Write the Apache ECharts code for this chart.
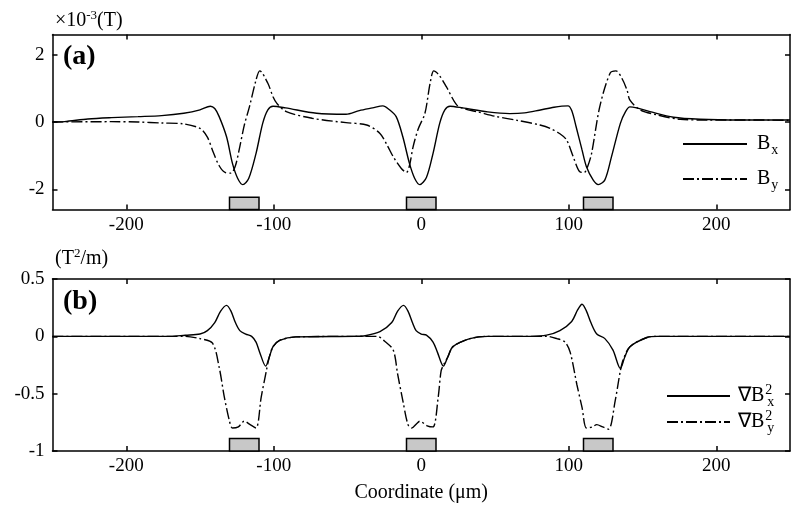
<!DOCTYPE html>
<html>
<head>
<meta charset="utf-8">
<script src="https://cdn.jsdelivr.net/npm/echarts@6/dist/echarts.min.js"></script>
<style>
  html, body { margin: 0; padding: 0; background: #fff; }
  #chart { width: 797px; height: 514px; }
</style>
</head>
<body>
<div id="chart"></div>
<script>
// x ticks (um) and the magnet strips drawn under both panels
const xTicks = [-200, -100, 0, 100, 200];
const bTicks = [-2, 0, 2];
const magnets = [[-130, -110], [-10, 10], [110, 130]];

// (a) field components, x10^-3 T
const bx = [[-250,0],[-242,0.01],[-226,0.09],[-210,0.13],[-192,0.16],[-176,0.19],[-161,0.26],[-150,0.36],[-143,0.47],[-140,0.4],[-137,0.16],[-132,-0.44],[-128,-1.23],[-124.5,-1.67],[-121,-1.86],[-117,-1.68],[-112,-0.93],[-107.5,-0.04],[-104,0.36],[-100.5,0.47],[-92,0.42],[-71,0.26],[-51,0.23],[-42,0.34],[-33,0.42],[-26,0.48],[-22,0.38],[-17,0.16],[-12.5,-0.44],[-8,-1.23],[-4.5,-1.67],[-1,-1.86],[3.5,-1.65],[8,-0.93],[12.5,-0.04],[16,0.36],[19.5,0.47],[28,0.42],[45,0.3],[60,0.25],[70,0.27],[80,0.35],[90,0.44],[99.5,0.48],[102,0.34],[105,-0.14],[109,-0.83],[112,-1.33],[116.5,-1.72],[120,-1.86],[124.5,-1.72],[129,-1.03],[135,-0.04],[138.5,0.31],[141.5,0.45],[146,0.42],[155,0.31],[171,0.14],[189,0.08],[216,0.06],[250,0.06]];
const by = [[-250,0],[-210,0.01],[-192,0],[-176,-0.03],[-162,-0.05],[-150,-0.19],[-145,-0.45],[-141,-0.9],[-137,-1.3],[-133,-1.5],[-129,-1.52],[-126,-1.3],[-123,-0.73],[-120,-0.1],[-116.5,0.45],[-112,1.25],[-109.5,1.52],[-104,1.15],[-100.5,0.75],[-98,0.56],[-91.5,0.31],[-74,0.11],[-51,-0.02],[-37,-0.09],[-28,-0.34],[-23,-0.7],[-19,-1.03],[-13.5,-1.38],[-10,-1.5],[-8,-1.3],[-5.5,-0.73],[-2,-0.2],[2.5,0.26],[6,1.15],[8.5,1.52],[12,1.4],[17,1.05],[24,0.51],[30,0.38],[37.5,0.31],[50,0.17],[65,0.05],[80.5,-0.09],[87.5,-0.19],[94,-0.35],[98.5,-0.53],[103,-1.03],[107.5,-1.48],[110.5,-1.5],[113,-1.3],[115.5,-0.93],[121,0.45],[128,1.45],[132,1.52],[136,1.3],[139.5,0.95],[141.5,0.65],[148.5,0.36],[160,0.21],[175.5,0.08],[194,0.06],[221,0.06],[250,0.05]];

// (b) gradients of B^2, T^2/m
const gx = [[-250,0],[-170,0],[-160,0.01],[-150,0.02],[-145,0.05],[-140,0.12],[-136,0.22],[-132,0.27],[-129,0.22],[-126,0.12],[-123,0.05],[-119,0.02],[-115,0],[-112,-0.05],[-109.5,-0.14],[-105.5,-0.26],[-103,-0.18],[-100.5,-0.09],[-96,-0.035],[-85,-0.005],[-45,0],[-38,0.005],[-28,0.04],[-20,0.12],[-16,0.22],[-12,0.27],[-9,0.22],[-6,0.12],[-3.5,0.05],[0,0.02],[3.5,0.01],[8,-0.05],[11,-0.14],[15,-0.26],[18,-0.18],[21.5,-0.09],[33,-0.02],[45,0],[75,0],[85,0.01],[94,0.05],[102,0.13],[106,0.23],[109,0.28],[112,0.22],[115,0.12],[119,0.02],[124.5,-0.02],[130,-0.12],[135,-0.28],[138,-0.18],[141.5,-0.09],[153,-0.01],[160,0],[250,0]];
const gy = [[-250,0],[-160,0],[-150,-0.02],[-141.5,-0.06],[-137,-0.27],[-133.5,-0.53],[-130,-0.74],[-128,-0.8],[-124,-0.79],[-120,-0.74],[-116,-0.77],[-112,-0.8],[-108.5,-0.53],[-105,-0.3],[-103,-0.18],[-100.5,-0.09],[-96,-0.035],[-85,-0.005],[-45,0],[-30,0],[-25,-0.04],[-19,-0.12],[-16,-0.33],[-12.5,-0.56],[-9,-0.77],[-6.5,-0.8],[-3,-0.76],[-1,-0.74],[4,-0.78],[8,-0.79],[11.5,-0.53],[13.5,-0.3],[15.5,-0.24],[18,-0.18],[21.5,-0.09],[33,-0.02],[45,0],[85,0],[92,-0.02],[97.5,-0.05],[101,-0.14],[105.5,-0.42],[109,-0.62],[112,-0.8],[116,-0.79],[119,-0.77],[123,-0.79],[127,-0.81],[131.5,-0.56],[135,-0.3],[137,-0.2],[141.5,-0.09],[153,-0.01],[160,0],[250,0]];

const FONT = 'Liberation Serif';
const dashDot = [11, 3, 2, 3];

const chart = echarts.init(document.getElementById('chart'), null, { renderer: 'canvas' });

function xAx(grid, pos, labels) {
  return {
    type: 'value', gridIndex: grid, position: pos, min: -250, max: 250,
    axisLine: { show: true, onZero: false, lineStyle: { color: '#000', width: 1.5 } },
    axisTick: { inside: true, length: 5, customValues: xTicks, lineStyle: { color: '#000', width: 1.5 } },
    axisLabel: { show: labels, customValues: xTicks, margin: 6, color: '#000', fontFamily: FONT, fontSize: 19 },
    splitLine: { show: false }
  };
}
function yAx(grid, pos, min, max, ticks, labels) {
  return {
    type: 'value', gridIndex: grid, position: pos, min: min, max: max,
    axisLine: { show: true, onZero: false, lineStyle: { color: '#000', width: 1.5 } },
    axisTick: { inside: true, length: 5, customValues: ticks, lineStyle: { color: '#000', width: 1.5 } },
    axisLabel: { show: labels, customValues: ticks, margin: 8, color: '#000', fontFamily: FONT, fontSize: 19 },
    splitLine: { show: false }
  };
}
function magnetArea(y0, y1) {
  return {
    silent: true,
    itemStyle: { color: '#c8c8c8', borderColor: '#000', borderWidth: 1.5 },
    label: { show: false },
    data: magnets.map(m => [{ xAxis: m[0], yAxis: y0 }, { xAxis: m[1], yAxis: y1 }])
  };
}
function lineSeries(name, data, xi, yi, dash) {
  return {
    name: name, type: 'line', xAxisIndex: xi, yAxisIndex: yi, data: data,
    symbol: 'none', smooth: 0.3, z: 3,
    itemStyle: { color: '#000' },
    lineStyle: { color: '#000', width: 1.4, type: dash ? dashDot : 'solid' }
  };
}

const legendNames = { Bx: '{m|B}{sub|x}', By: '{m|B}{sub|y}', gx: '{m|∇B}{sup|2}{sub|x}', gy: '{m|∇B}{sup|2}{sub|y}' };
const rich = {
  m: { fontFamily: FONT, fontSize: 20, color: '#000' },
  sub: { fontFamily: FONT, fontSize: 14, color: '#000', padding: [12, 0, 0, 1] },
  sup: { fontFamily: FONT, fontSize: 14, color: '#000', padding: [0, 0, 12, 1], width: 1 }
};

chart.setOption({
  animation: false,
  backgroundColor: '#fff',
  grid: [
    { left: 52.5, right: 7, top: 34.5, height: 175 },
    { left: 52.5, right: 7, top: 279, height: 172 }
  ],
  xAxis: [
    xAx(0, 'bottom', true), xAx(0, 'top', false),
    Object.assign(xAx(1, 'bottom', true), {
      name: 'Coordinate (μm)', nameLocation: 'middle', nameGap: 32,
      nameTextStyle: { color: '#000', fontFamily: FONT, fontSize: 20 }
    }),
    xAx(1, 'top', false)
  ],
  yAxis: [
    yAx(0, 'left', -2.6, 2.6, bTicks, true), yAx(0, 'right', -2.6, 2.6, bTicks, false),
    Object.assign(yAx(1, 'left', -1, 0.5, null, true), { interval: 0.5 }),
    Object.assign(yAx(1, 'right', -1, 0.5, null, false), { interval: 0.5 })
  ],
  legend: [
    {
      data: ['Bx', 'By'], orient: 'vertical', left: 682, top: 134, padding: 0,
      itemWidth: 64, itemHeight: 12, itemGap: 12,
      itemStyle: { opacity: 0 },
      formatter: n => legendNames[n],
      textStyle: { rich: rich, padding: [0, 0, 0, 5] }
    },
    {
      data: ['gx', 'gy'], orient: 'vertical', left: 666, top: 383, padding: 0,
      itemWidth: 63, itemHeight: 12, itemGap: 0,
      itemStyle: { opacity: 0 },
      formatter: n => legendNames[n],
      textStyle: { rich: rich, padding: [0, 0, 0, 3] }
    }
  ],
  graphic: [
    { type: 'text', left: 55, top: 9, style: { text: '{a|×10}{s|-3}{a|(T)}', rich: {
      a: { fontFamily: FONT, fontSize: 20, fill: '#000' },
      s: { fontFamily: FONT, fontSize: 13, fill: '#000', padding: [0, 0, 11, 0] } } } },
    { type: 'text', left: 55, top: 247, style: { text: '{a|(T}{s|2}{a|/m)}', rich: {
      a: { fontFamily: FONT, fontSize: 20, fill: '#000' },
      s: { fontFamily: FONT, fontSize: 13, fill: '#000', padding: [0, 0, 11, 0] } } } },
    { type: 'text', left: 63, top: 43, style: { text: '(a)', fontFamily: FONT, fontSize: 28, fontWeight: 'bold', fill: '#000' } },
    { type: 'text', left: 63, top: 288, style: { text: '(b)', fontFamily: FONT, fontSize: 28, fontWeight: 'bold', fill: '#000' } }
  ],
  series: [
    Object.assign(lineSeries('Bx', bx, 0, 0, false), { markArea: magnetArea(-2.6, -2.235) }),
    lineSeries('By', by, 0, 0, true),
    Object.assign(lineSeries('gx', gx, 2, 2, false), { markArea: magnetArea(-1, -0.89) }),
    lineSeries('gy', gy, 2, 2, true)
  ]
});
</script>
</body>
</html>
